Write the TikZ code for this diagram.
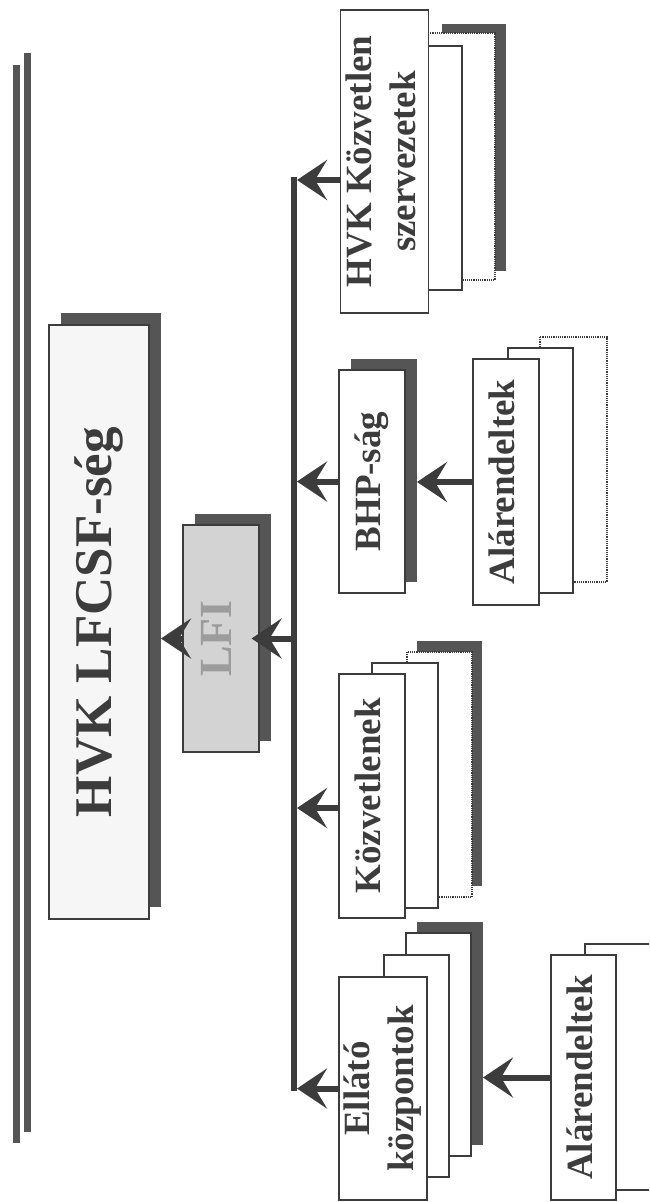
\documentclass[tikz,border=0pt]{standalone}
\usepackage{fontspec}
\usepackage{graphicx}
\setmainfont{Liberation Serif}
\usetikzlibrary{arrows.meta}
\definecolor{ink}{HTML}{3C3C3C}
\definecolor{darkshadow}{HTML}{555555}
\definecolor{lfigray}{HTML}{D3D3D3}
\definecolor{lfitext}{HTML}{9C9C9C}
\definecolor{paper}{HTML}{F6F6F6}
\newcommand{\felirat}[1]{\rotatebox{90}{\begin{tabular}{@{}c@{}}#1\end{tabular}}}

\begin{document}
\begin{tikzpicture}[x=1pt,y=-1pt,
  sheet/.style={draw=ink, line width=1.2pt, fill=white},
  dotsheet/.style={sheet, densely dotted},
  backshadow/.style={fill=darkshadow},
  box/.style={sheet, inner sep=0pt, text=ink, font=\bfseries\fontsize{37}{44}\selectfont},
  flow/.style={draw=ink, line width=6pt, -{Stealth[length=30pt,width=40pt,inset=12pt]}},
  bar/.style={draw=darkshadow, line width=7pt}]
\useasboundingbox (0,0) rectangle (649,1202);
\clip (0,0) rectangle (649,1202);
% double rule
\draw[bar] (16,65) -- (16,1143);
\draw[bar] (27,53) -- (27,1132);
% HVK LFCSF-seg
\fill[backshadow] (61,313) rectangle (161,907);
\node[box, fill=paper, minimum width=100pt, minimum height=594pt, font=\bfseries\fontsize{53}{60}\selectfont] (lfcsf) at (99,622) {\felirat{HVK LFCSF-ség}};
\coordinate (lfcsfs) at (161,0);
% LFI
\fill[backshadow] (195,514) rectangle (271,741);
\node[box, fill=lfigray, text=lfitext, minimum width=76pt, minimum height=227pt, font=\bfseries\fontsize{46}{50}\selectfont] (lfi) at (221,638.5) {\felirat{LFI}};
% HVK Kozvetlen szervezetek
\fill[backshadow] (442,24) rectangle (506,271);
\draw[dotsheet] (408,33) rectangle (495,280);
\draw[sheet] (375,46) rectangle (462,290);
\node[box, minimum width=87pt, minimum height=303pt] (hvkk) at (384.5,161.5) {\felirat{HVK Közvetlen\\szervezetek}};
% BHP-sag
\fill[backshadow] (351,359) rectangle (417,582);
\node[box, minimum width=66pt, minimum height=223pt] (bhp) at (372,481.5) {\felirat{BHP-ság}};
\coordinate (bhps) at (417,0);
% Alarendeltek (BHP)
\draw[dotsheet] (540,337) rectangle (607,582);
\draw[sheet] (508,348) rectangle (573,593);
\node[box, minimum width=66pt, minimum height=246pt] (alar1) at (506,482) {\felirat{Alárendeltek}};
% Kozvetlenek
\fill[backshadow] (417,641) rectangle (482,886);
\draw[dotsheet] (407,652) rectangle (472,897);
\draw[sheet] (372,663) rectangle (438,908);
\node[box, minimum width=66pt, minimum height=244pt] (kozv) at (372,796) {\felirat{Közvetlenek}};
% Ellato kozpontok
\fill[backshadow] (417,922) rectangle (483,1145);
\draw[sheet] (406,933) rectangle (471,1156);
\draw[sheet] (384,955) rectangle (449,1177);
\node[box, minimum width=88pt, minimum height=223pt] (ellato) at (383,1088.5) {\felirat{Ellátó\\központok}};
\coordinate (ellatos) at (483,0);
% Alarendeltek (ellato)
\draw[sheet] (585,944) rectangle (660,1190);
\node[box, minimum width=65pt, minimum height=245pt] (alar2) at (583.5,1077.5) {\felirat{Alárendeltek}};
% trunk
\draw[ink, line width=6pt] (294,177) -- (294,1091);
\coordinate (trunk) at (297,0);
\coordinate (trunkl) at (291,0);
% arrows
\coordinate (hvkkin) at ([yshift=-18.5pt]hvkk.west);
\coordinate (kozvin) at ([yshift=-12pt]kozv.west);
\draw[flow] (hvkkin) -- (hvkkin -| trunk);
\draw[flow] (bhp.west) -- (bhp.west -| trunk);
\draw[flow] (kozvin) -- (kozvin -| trunk);
\draw[flow] (ellato.west) -- (ellato.west -| trunk);
\draw[flow] (lfi.east -| trunkl) -- ([xshift=-8pt]lfi.east);
\draw[flow] (lfi.west) -- (lfi.west -| lfcsfs);
\draw[flow] (alar1.west) -- (alar1.west -| bhps);
\draw[flow] (alar2.west) -- (alar2.west -| ellatos);
\end{tikzpicture}
\end{document}
